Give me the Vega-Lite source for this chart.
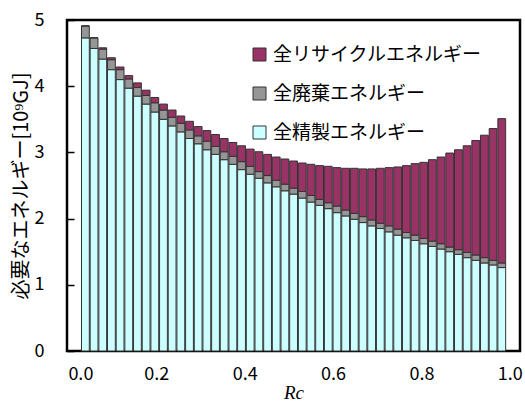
{
  "$schema": "https://vega.github.io/schema/vega-lite/v6.json",
  "width": 453,
  "height": 331,
  "autosize": {"type": "none"},
  "padding": {"left": 67, "top": 20, "right": 5, "bottom": 52},
  "config": {
    "view": {"stroke": "#000000", "strokeWidth": 2.5},
    "axis": {"grid": false, "labelFont": "Noto Sans CJK JP", "titleFont": "Noto Sans CJK JP", "labelColor": "#000000", "titleColor": "#000000"},
    "legend": {"labelFont": "Noto Sans CJK JP", "labelColor": "#000000"}
  },
  "resolve": {"scale": {"x": "independent"}},
  "layer": [
    {
      "data": {
        "values": [
          {"Rc": 0.02, "全精製エネルギー": 4.73, "全廃棄エネルギー": 0.18, "全リサイクルエネルギー": 0},
          {"Rc": 0.04, "全精製エネルギー": 4.57, "全廃棄エネルギー": 0.16, "全リサイクルエネルギー": 0},
          {"Rc": 0.06, "全精製エネルギー": 4.41, "全廃棄エネルギー": 0.15, "全リサイクルエネルギー": 0.02},
          {"Rc": 0.08, "全精製エネルギー": 4.25, "全廃棄エネルギー": 0.15, "全リサイクルエネルギー": 0.03},
          {"Rc": 0.10, "全精製エネルギー": 4.10, "全廃棄エネルギー": 0.15, "全リサイクルエネルギー": 0.04},
          {"Rc": 0.12, "全精製エネルギー": 3.97, "全廃棄エネルギー": 0.14, "全リサイクルエネルギー": 0.05},
          {"Rc": 0.14, "全精製エネルギー": 3.85, "全廃棄エネルギー": 0.13, "全リサイクルエネルギー": 0.07},
          {"Rc": 0.16, "全精製エネルギー": 3.73, "全廃棄エネルギー": 0.13, "全リサイクルエネルギー": 0.08},
          {"Rc": 0.18, "全精製エネルギー": 3.61, "全廃棄エネルギー": 0.14, "全リサイクルエネルギー": 0.08},
          {"Rc": 0.20, "全精製エネルギー": 3.50, "全廃棄エネルギー": 0.14, "全リサイクルエネルギー": 0.09},
          {"Rc": 0.22, "全精製エネルギー": 3.40, "全廃棄エネルギー": 0.13, "全リサイクルエネルギー": 0.11},
          {"Rc": 0.24, "全精製エネルギー": 3.31, "全廃棄エネルギー": 0.13, "全リサイクルエネルギー": 0.11},
          {"Rc": 0.26, "全精製エネルギー": 3.21, "全廃棄エネルギー": 0.13, "全リサイクルエネルギー": 0.13},
          {"Rc": 0.28, "全精製エネルギー": 3.13, "全廃棄エネルギー": 0.12, "全リサイクルエネルギー": 0.14},
          {"Rc": 0.30, "全精製エネルギー": 3.04, "全廃棄エネルギー": 0.13, "全リサイクルエネルギー": 0.16},
          {"Rc": 0.32, "全精製エネルギー": 2.97, "全廃棄エネルギー": 0.12, "全リサイクルエネルギー": 0.18},
          {"Rc": 0.34, "全精製エネルギー": 2.89, "全廃棄エネルギー": 0.12, "全リサイクルエネルギー": 0.20},
          {"Rc": 0.36, "全精製エネルギー": 2.82, "全廃棄エネルギー": 0.12, "全リサイクルエネルギー": 0.21},
          {"Rc": 0.38, "全精製エネルギー": 2.74, "全廃棄エネルギー": 0.12, "全リサイクルエネルギー": 0.24},
          {"Rc": 0.40, "全精製エネルギー": 2.67, "全廃棄エネルギー": 0.12, "全リサイクルエネルギー": 0.26},
          {"Rc": 0.42, "全精製エネルギー": 2.61, "全廃棄エネルギー": 0.10, "全リサイクルエネルギー": 0.30},
          {"Rc": 0.44, "全精製エネルギー": 2.54, "全廃棄エネルギー": 0.11, "全リサイクルエネルギー": 0.32},
          {"Rc": 0.46, "全精製エネルギー": 2.48, "全廃棄エネルギー": 0.10, "全リサイクルエネルギー": 0.35},
          {"Rc": 0.48, "全精製エネルギー": 2.42, "全廃棄エネルギー": 0.10, "全リサイクルエネルギー": 0.38},
          {"Rc": 0.50, "全精製エネルギー": 2.37, "全廃棄エネルギー": 0.09, "全リサイクルエネルギー": 0.41},
          {"Rc": 0.52, "全精製エネルギー": 2.31, "全廃棄エネルギー": 0.10, "全リサイクルエネルギー": 0.43},
          {"Rc": 0.54, "全精製エネルギー": 2.25, "全廃棄エネルギー": 0.10, "全リサイクルエネルギー": 0.47},
          {"Rc": 0.56, "全精製エネルギー": 2.20, "全廃棄エネルギー": 0.09, "全リサイクルエネルギー": 0.51},
          {"Rc": 0.58, "全精製エネルギー": 2.15, "全廃棄エネルギー": 0.09, "全リサイクルエネルギー": 0.55},
          {"Rc": 0.60, "全精製エネルギー": 2.09, "全廃棄エネルギー": 0.10, "全リサイクルエネルギー": 0.58},
          {"Rc": 0.62, "全精製エネルギー": 2.04, "全廃棄エネルギー": 0.09, "全リサイクルエネルギー": 0.63},
          {"Rc": 0.64, "全精製エネルギー": 1.99, "全廃棄エネルギー": 0.09, "全リサイクルエネルギー": 0.68},
          {"Rc": 0.66, "全精製エネルギー": 1.94, "全廃棄エネルギー": 0.09, "全リサイクルエネルギー": 0.72},
          {"Rc": 0.68, "全精製エネルギー": 1.89, "全廃棄エネルギー": 0.09, "全リサイクルエネルギー": 0.77},
          {"Rc": 0.70, "全精製エネルギー": 1.85, "全廃棄エネルギー": 0.08, "全リサイクルエネルギー": 0.83},
          {"Rc": 0.72, "全精製エネルギー": 1.80, "全廃棄エネルギー": 0.09, "全リサイクルエネルギー": 0.88},
          {"Rc": 0.74, "全精製エネルギー": 1.75, "全廃棄エネルギー": 0.09, "全リサイクルエネルギー": 0.94},
          {"Rc": 0.76, "全精製エネルギー": 1.71, "全廃棄エネルギー": 0.08, "全リサイクルエネルギー": 1.01},
          {"Rc": 0.78, "全精製エネルギー": 1.67, "全廃棄エネルギー": 0.08, "全リサイクルエネルギー": 1.08},
          {"Rc": 0.80, "全精製エネルギー": 1.62, "全廃棄エネルギー": 0.08, "全リサイクルエネルギー": 1.15},
          {"Rc": 0.82, "全精製エネルギー": 1.58, "全廃棄エネルギー": 0.08, "全リサイクルエネルギー": 1.23},
          {"Rc": 0.84, "全精製エネルギー": 1.54, "全廃棄エネルギー": 0.08, "全リサイクルエネルギー": 1.31},
          {"Rc": 0.86, "全精製エネルギー": 1.50, "全廃棄エネルギー": 0.07, "全リサイクルエネルギー": 1.42},
          {"Rc": 0.88, "全精製エネルギー": 1.46, "全廃棄エネルギー": 0.07, "全リサイクルエネルギー": 1.51},
          {"Rc": 0.90, "全精製エネルギー": 1.41, "全廃棄エネルギー": 0.08, "全リサイクルエネルギー": 1.61},
          {"Rc": 0.92, "全精製エネルギー": 1.37, "全廃棄エネルギー": 0.08, "全リサイクルエネルギー": 1.73},
          {"Rc": 0.94, "全精製エネルギー": 1.33, "全廃棄エネルギー": 0.08, "全リサイクルエネルギー": 1.85},
          {"Rc": 0.96, "全精製エネルギー": 1.30, "全廃棄エネルギー": 0.07, "全リサイクルエネルギー": 1.99},
          {"Rc": 0.98, "全精製エネルギー": 1.26, "全廃棄エネルギー": 0.07, "全リサイクルエネルギー": 2.18}
        ]
      },
      "transform": [
        {"fold": ["全精製エネルギー", "全廃棄エネルギー", "全リサイクルエネルギー"], "as": ["type", "value"]}
      ],
      "mark": {"type": "bar", "size": 7.8, "stroke": "#333333", "strokeWidth": 1},
      "encoding": {
        "x": {"field": "Rc", "type": "quantitative", "scale": {"domain": [-0.0109, 1.0105], "nice": false, "zero": false}, "axis": null},
        "y": {
          "field": "value", "type": "quantitative", "stack": "zero",
          "scale": {"domain": [0, 5], "nice": false},
          "axis": {
            "title": "必要なエネルギー[10⁹GJ]", "titleFontSize": 20, "titleFontWeight": "normal", "titlePadding": 3,
            "values": [0, 1, 2, 3, 4, 5], "labelFontSize": 18, "labelPadding": 23,
            "offset": -7, "tickSize": 7, "tickColor": "#000000", "tickWidth": 1.5,
            "domain": false
          }
        },
        "color": {
          "field": "type", "type": "nominal",
          "scale": {"domain": ["全リサイクルエネルギー", "全廃棄エネルギー", "全精製エネルギー"], "range": ["#993366", "#969696", "#CCFFFF"]},
          "legend": {
            "title": null, "orient": "none", "legendX": 183, "legendY": 25,
            "symbolType": "square", "symbolSize": 169, "symbolStrokeColor": "#333333", "symbolStrokeWidth": 1, "symbolOpacity": 1,
            "labelFontSize": 19, "labelOffset": 4, "labelLimit": 0, "rowPadding": 19
          }
        },
        "order": {"field": "type", "sort": "descending"}
      }
    },
    {
      "data": {"values": [{"Rc": 0}, {"Rc": 1}]},
      "mark": {"type": "point", "opacity": 0},
      "encoding": {
        "x": {
          "field": "Rc", "type": "quantitative",
          "scale": {"domain": [-0.002, 1.023], "nice": false, "zero": false},
          "axis": {
            "title": "Rc", "titleFont": "Liberation Serif", "titleFontStyle": "italic", "titleFontWeight": "normal", "titleFontSize": 19, "titlePadding": 0,
            "values": [0, 0.2, 0.4, 0.6, 0.8, 1.0], "format": ".1f", "labelFontSize": 18, "labelPadding": 14,
            "ticks": false, "domain": false
          }
        }
      }
    }
  ]
}
